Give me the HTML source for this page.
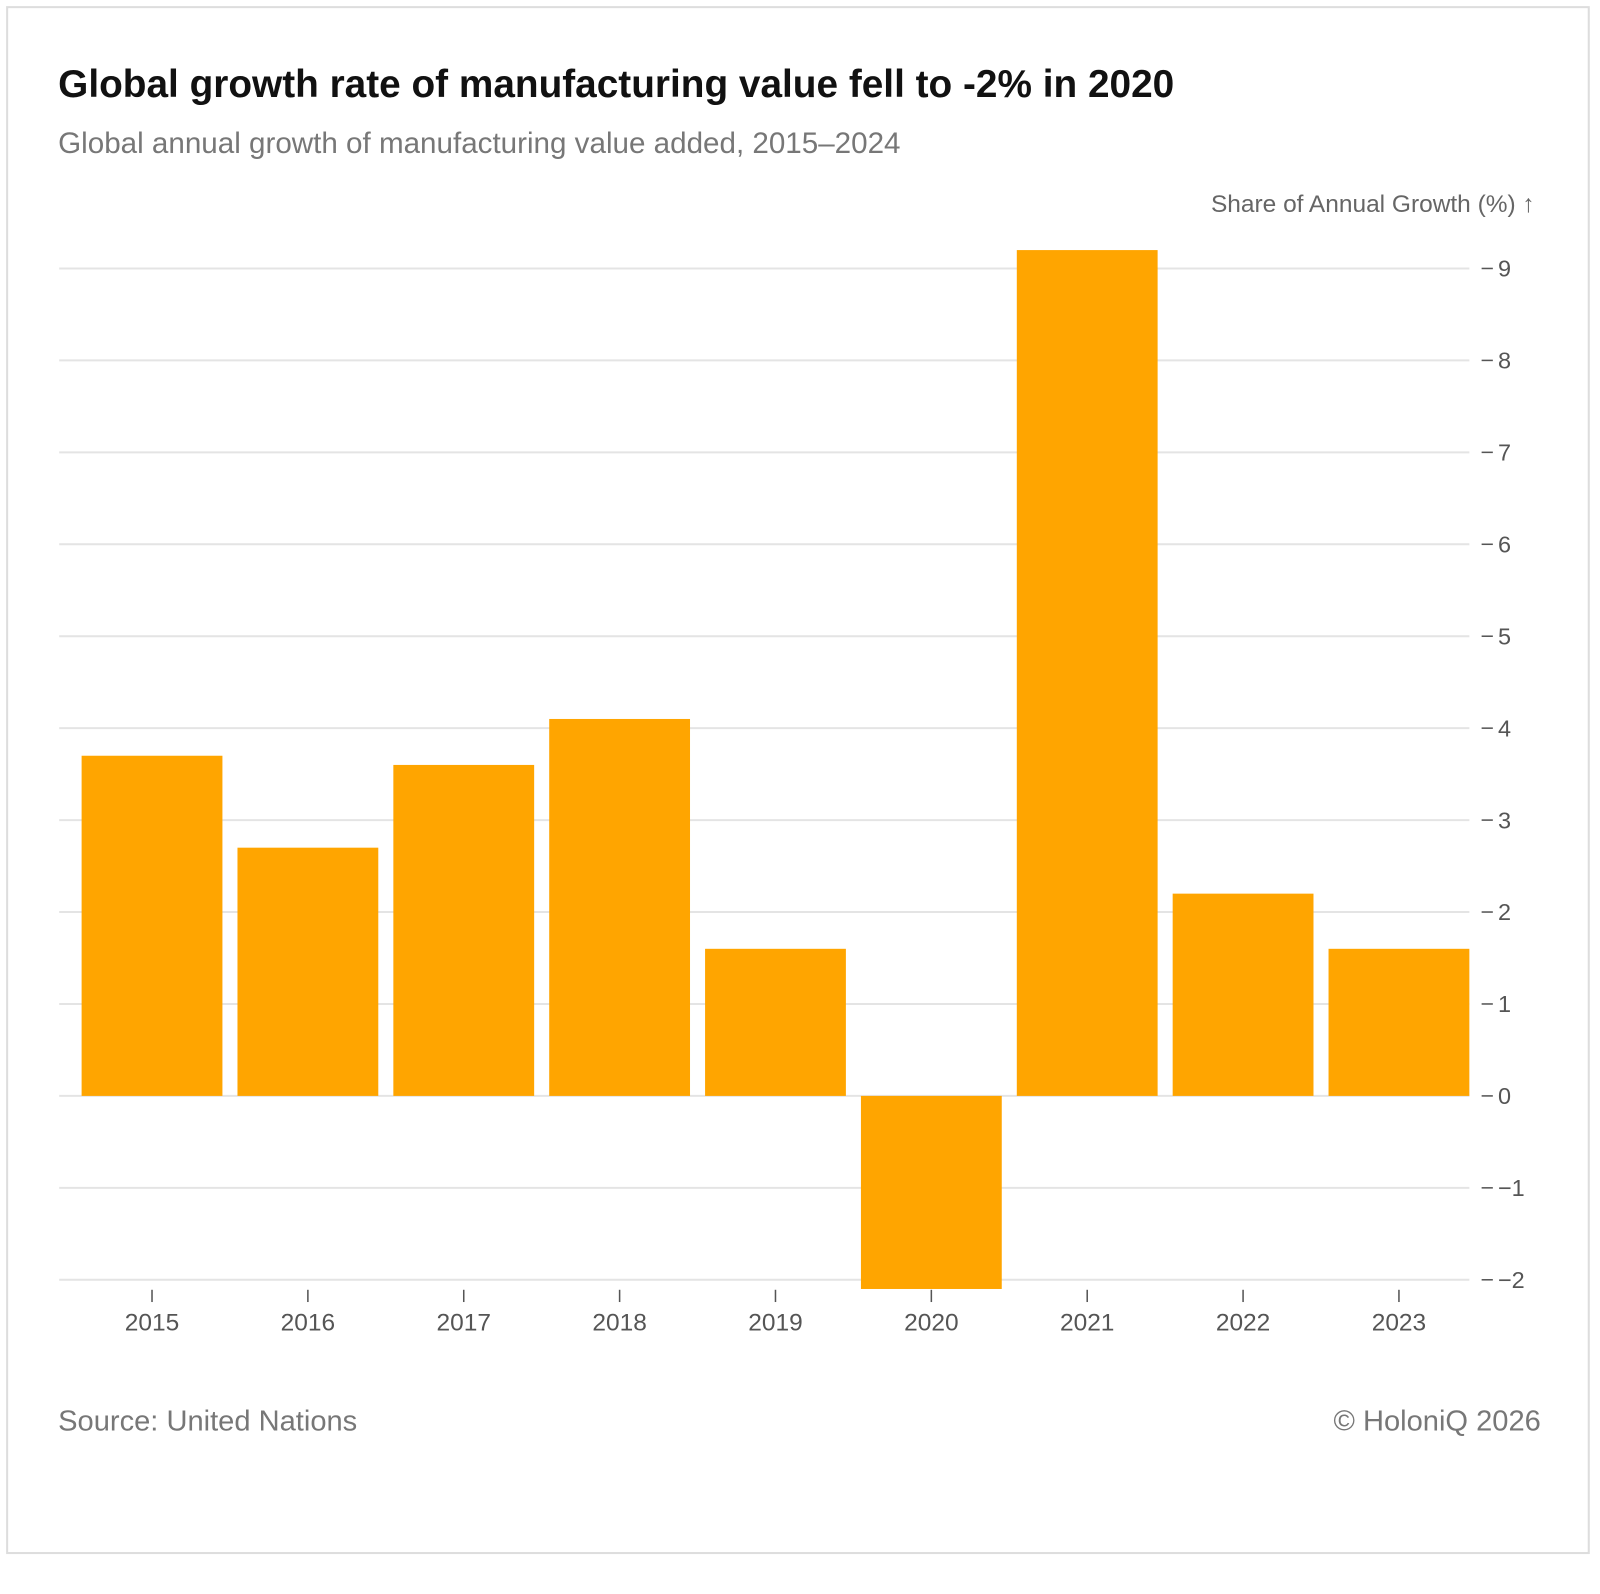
<!DOCTYPE html>
<html><head><meta charset="utf-8"><style>
body{margin:0;background:#fff;width:1600px;height:1562px;overflow:hidden;font-family:"Liberation Sans",sans-serif}
#wrap{position:absolute;left:0;top:0;width:1600px;height:1562px;transform:scale(1.0204);transform-origin:0 0}
#frame{position:absolute;left:6px;top:6px;width:1552px;height:1517px;border:2px solid #ddd;box-sizing:border-box}
.t{position:absolute;white-space:nowrap}
</style></head><body>
<div id="wrap">
<div id="frame"></div>
<div class="t" style="left:57px;top:62px;font-size:38px;font-weight:bold;color:#111">Global growth rate of manufacturing value fell to -2% in 2020</div>
<div class="t" style="left:57px;top:125px;font-size:29px;color:#777">Global annual growth of manufacturing value added, 2015–2024</div>
<div class="t" style="left:57px;top:1377px;font-size:28.5px;color:#777">Source: United Nations</div>
<div class="t" style="right:90px;top:1377px;font-size:28.5px;color:#777">© HoloniQ 2026</div>
<svg id="chart" width="1600" height="1562" style="position:absolute;left:0;top:0"></svg>
</div>
<script>
const categories=["2015","2016","2017","2018","2019","2020","2021","2022","2023"];
const values=[3.7,2.7,3.6,4.1,1.6,-2.1,9.2,2.2,1.6];
const yTicks=[-2,-1,0,1,2,3,4,5,6,7,8,9];
const NS="http://www.w3.org/2000/svg";
const svg=document.getElementById('chart');
const y0=1074,pxPerUnit=90.1;
const y=v=>y0-v*pxPerUnit;
const bandStart=72.6,step=152.75,barW=138;
const xc=i=>bandStart+step*(i+0.5);
function mk(t,a){const e=document.createElementNS(NS,t);for(const k in a)e.setAttribute(k,a[k]);svg.appendChild(e);return e;}
yTicks.forEach(v=>{
  const g=mk('line',{x1:58,x2:1440,y1:y(v),y2:y(v),stroke:'#e4e4e4','stroke-width':2});
  
  
  const tk=mk('line',{x1:1452,x2:1463,y1:y(v),y2:y(v),stroke:'#555','stroke-width':1.5});
  
  
  const tx=mk('text',{x:1468,y:y(v)+8,'font-size':23,fill:'#555','font-family':'Liberation Sans, sans-serif'});
  tx.textContent=v<0?'\u2212'+Math.abs(v):String(v);
  
  
});
const at=mk('text',{x:1504,y:208,'font-size':24,fill:'#666','text-anchor':'end','font-family':'Liberation Sans, sans-serif'});
at.textContent='Share of Annual Growth (%) \u2191';


categories.forEach((c,i)=>{
  const v=values[i];
  const r=mk('rect',{x:xc(i)-barW/2,y:Math.min(y(v),y0),width:barW,height:Math.abs(y(v)-y0),fill:'#ffa500'});
  
  
  const tk=mk('line',{x1:xc(i),x2:xc(i),y1:1264,y2:1276,stroke:'#555','stroke-width':1.5});
  
  
  const tx=mk('text',{x:xc(i),y:1304,'font-size':24,fill:'#555','text-anchor':'middle','font-family':'Liberation Sans, sans-serif'});
  tx.textContent=c;
  
  
});
</script>
</body></html>
